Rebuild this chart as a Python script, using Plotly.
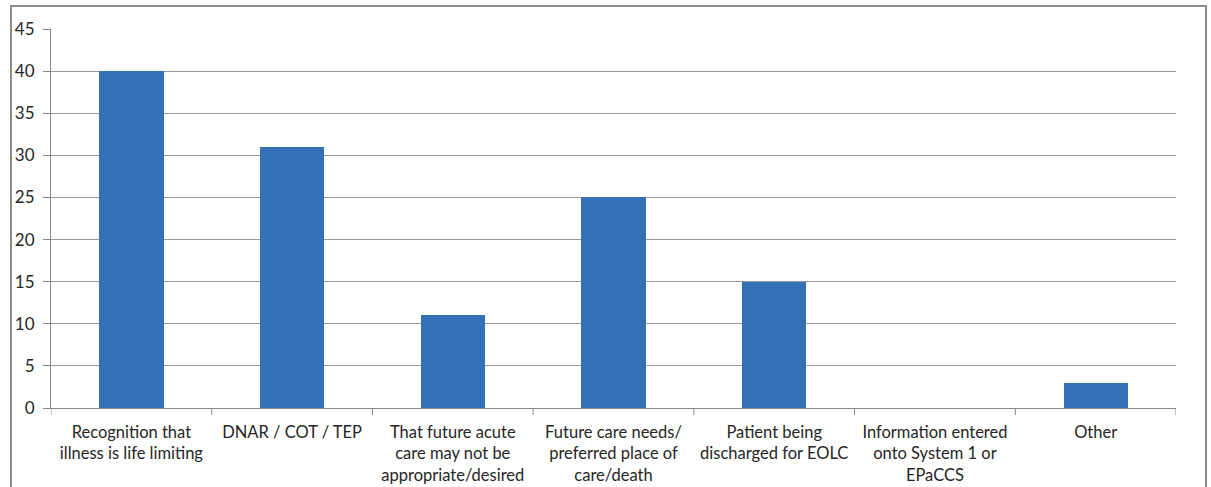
import plotly.graph_objects as go

categories = [
    "Recognition that<br>illness is life limiting",
    "DNAR / COT / TEP",
    "That future acute<br>care may not be<br>appropriate/desired",
    "Future care needs/<br>preferred place of<br>care/death",
    "Patient being<br>discharged for EOLC",
    "Information entered<br>onto System 1 or<br>EPaCCS",
    "Other",
]
values = [40, 31, 11, 25, 15, 0, 3]
y_ticks = [0, 5, 10, 15, 20, 25, 30, 35, 40, 45]

fig = go.Figure()
fig.add_trace(go.Bar(
    x=list(range(len(categories))),
    y=values,
    width=0.4,
    marker=dict(color="#3470b8", line=dict(width=0)),
    hoverinfo="x+y",
))

fig.update_layout(
    width=1211, height=487,
    margin=dict(l=51, r=35, t=29, b=79, autoexpand=False),
    paper_bgcolor="white", plot_bgcolor="white",
    font=dict(family="Lato, Open Sans, sans-serif", size=16, color="#262626"),
    showlegend=False,
    bargap=0,
    xaxis=dict(
        tickmode="array",
        tickvals=list(range(len(categories))),
        ticktext=categories,
        range=[-0.5, len(categories) - 0.5],
        showline=True, linecolor="#888888", linewidth=1,
        ticks="", showgrid=False, zeroline=False,
        tickfont=dict(size=16.5),
        ticklabelstandoff=9,
        automargin=False,
    ),
    yaxis=dict(
        range=[0, 45],
        tickmode="array", tickvals=y_ticks,
        showline=True, linecolor="#888888", linewidth=1,
        ticks="outside", ticklen=7, tickcolor="#888888",
        showgrid=True, gridcolor="#9a9a9a", gridwidth=1,
        zeroline=False,
        tickfont=dict(size=17),
        ticklabelstandoff=5,
        automargin=False,
    ),
    shapes=[
        dict(type="rect", xref="paper", yref="paper",
             x0=-40/1125, x1=1.0 + 30/1125, y0=-0.3, y1=1.0 + 23/379,
             line=dict(color="#8c8c8c", width=2), fillcolor="rgba(0,0,0,0)",
             layer="below"),
    ],
)

# category boundary tick marks below the x axis
for i in range(len(categories) + 1):
    fig.add_shape(type="line", xref="x", yref="paper",
                  x0=i - 0.5, x1=i - 0.5, y0=0, y1=-7/379,
                  line=dict(color="#888888", width=1))

fig.write_html("out.html")
